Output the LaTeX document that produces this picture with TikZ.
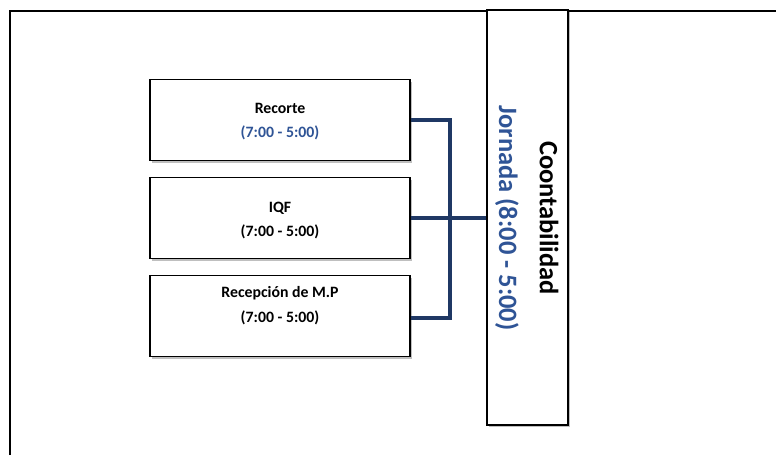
\documentclass[tikz,border=0pt]{standalone}
\usepackage{fontspec}
\setmainfont{Carlito}
\usetikzlibrary{shadows}
\definecolor{navy}{RGB}{31,56,100}
\definecolor{jblue}{RGB}{47,84,150}
\begin{document}
\begin{tikzpicture}[x=1pt,y=-1pt,
  unitbox/.style={draw=black,line width=1.3pt,fill=white,
    drop shadow={shadow xshift=1.5pt,shadow yshift=-2pt,opacity=0.25,fill=black}},
  link/.style={draw=navy,line width=4.5pt},
  lbl/.style={font=\bfseries\fontsize{15.8}{18}\selectfont,inner sep=0pt},
  vlbl/.style={rotate=-90,font=\bfseries\fontsize{26.5}{30}\selectfont,inner sep=0pt}]
\useasboundingbox (0,0) rectangle (776,455);
% outer frame (open to the right and bottom)
\draw[line width=1.3pt] (10,455) -- (10,11) -- (776,11);
% tall department box
\node[unitbox,minimum width=81pt,minimum height=415pt,inner sep=0pt] (cont) at (527.5,217.5) {};
\node[vlbl] (ctit) at (549,218) {Coontabilidad};
\node[vlbl,text=jblue] (cjor) at (507,218) {Jornada (8:00 - 5:00)};
% area boxes
\node[unitbox,minimum width=260pt,minimum height=81pt,inner sep=0pt] (rec) at (280,120) {};
\node[unitbox,minimum width=260pt,minimum height=81pt,inner sep=0pt] (iqf) at (280,218) {};
\node[unitbox,minimum width=260pt,minimum height=81pt,inner sep=0pt] (rmp) at (280,316) {};
\node[lbl] (recA) at (280,108) {Recorte};
\node[lbl,text=jblue] (recB) at (280,133) {(7:00 - 5:00)};
\node[lbl] (iqfA) at (280,208) {IQF};
\node[lbl] (iqfB) at (280,232) {(7:00 - 5:00)};
\node[lbl] (rmpA) at (280,293) {Recepción de M.P};
\node[lbl] (rmpB) at (280,318) {(7:00 - 5:00)};
% connectors
\coordinate (bus) at (450,0);
\draw[link] (rec.east |- 0,120) -- (bus |- 0,120) -- (bus |- 0,318) -- (rmp.east |- 0,318);
\draw[link] (iqf.east) -- (cont.west |- iqf.east);
\end{tikzpicture}
\end{document}
